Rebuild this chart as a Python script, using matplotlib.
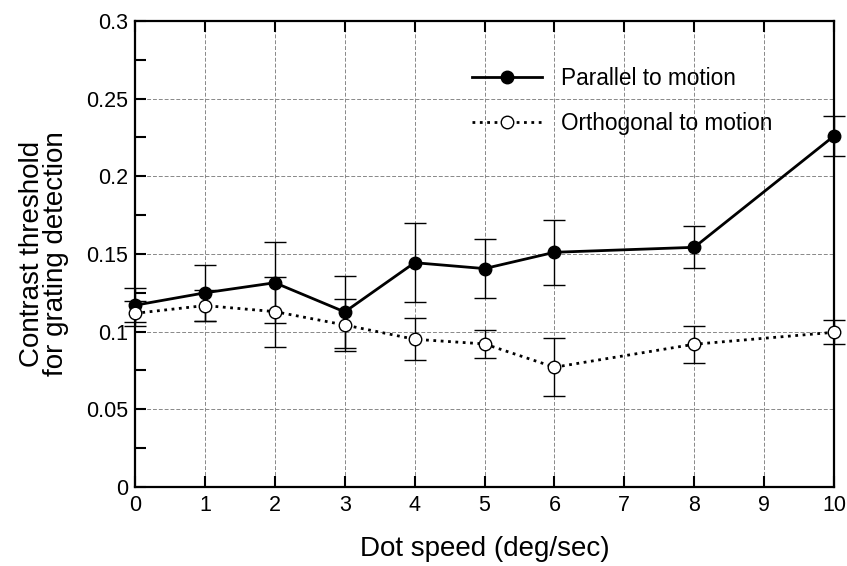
import numpy as np
import matplotlib.pyplot as plt
from matplotlib.ticker import MultipleLocator

plt.rcParams['font.family'] = ['Liberation Sans', 'DejaVu Sans']

# dot speed (deg/sec)
speed = [0, 1, 2, 3, 4, 5, 6, 8, 10]

# contrast thresholds and error bars
parallel = [0.117, 0.125, 0.1315, 0.1127, 0.1444, 0.1406, 0.1511, 0.1543, 0.226]
parallel_err = [0.011, 0.018, 0.026, 0.0233, 0.0255, 0.019, 0.021, 0.0136, 0.0127]
orthogonal = [0.1118, 0.1168, 0.1129, 0.1043, 0.0951, 0.0921, 0.0771, 0.0919, 0.0996]
orthogonal_err = [0.008, 0.0098, 0.0225, 0.017, 0.0135, 0.0092, 0.0188, 0.012, 0.0078]

fig = plt.figure(figsize=(8.47, 5.66), dpi=100)
ax = fig.add_axes([0.1594, 0.1396, 0.8253, 0.8233])

par = ax.errorbar(speed, parallel, yerr=parallel_err, color='black', lw=2.0,
                  marker='o', ms=9, mfc='black', mec='black',
                  ecolor='black', elinewidth=1.0, capsize=8, capthick=1.0,
                  zorder=3)
orth = ax.errorbar(speed, orthogonal, yerr=orthogonal_err, color='black', lw=2.0,
                   ls=':', marker='o', ms=9, mfc='white', mec='black', mew=1.0,
                   ecolor='black', elinewidth=1.0, capsize=8, capthick=1.0,
                   zorder=3)
for cont in (par, orth):
    for art in cont.get_children():
        art.set_clip_on(False)

ax.set_xlim(0, 10)
ax.set_ylim(0, 0.3)
ax.xaxis.set_major_locator(MultipleLocator(1))
ax.yaxis.set_minor_locator(MultipleLocator(0.025))
ax.set_yticks([0, 0.05, 0.1, 0.15, 0.2, 0.25, 0.3])
ax.set_yticklabels(['0', '0.05', '0.1', '0.15', '0.2', '0.25', '0.3'])

ax.grid(True, which='major', ls=(0, (4, 2)), color='#888888', lw=0.7)
ax.tick_params(axis='x', which='major', direction='in', length=8, width=1.5,
               top=True, labelsize=15.5, pad=6)
ax.tick_params(axis='y', which='both', direction='in', length=8, width=1.5,
               right=False, labelsize=15.5, pad=5)

for sp in ax.spines.values():
    sp.set_linewidth(1.6)

ax.set_xlabel('Dot speed (deg/sec)', fontsize=20, labelpad=14)
ax.set_ylabel('Contrast threshold\nfor grating detection', fontsize=20,
              labelpad=12, linespacing=0.92)

ax.legend([par.lines[0], orth.lines[0]],
          ['Parallel to motion', 'Orthogonal to motion'],
          loc='upper left', bbox_to_anchor=(0.469, 0.921), frameon=False,
          fontsize=16.3, handlelength=3.1, handletextpad=0.85,
          labelspacing=0.98, borderaxespad=0)

fig.savefig('out.png', dpi=100)
